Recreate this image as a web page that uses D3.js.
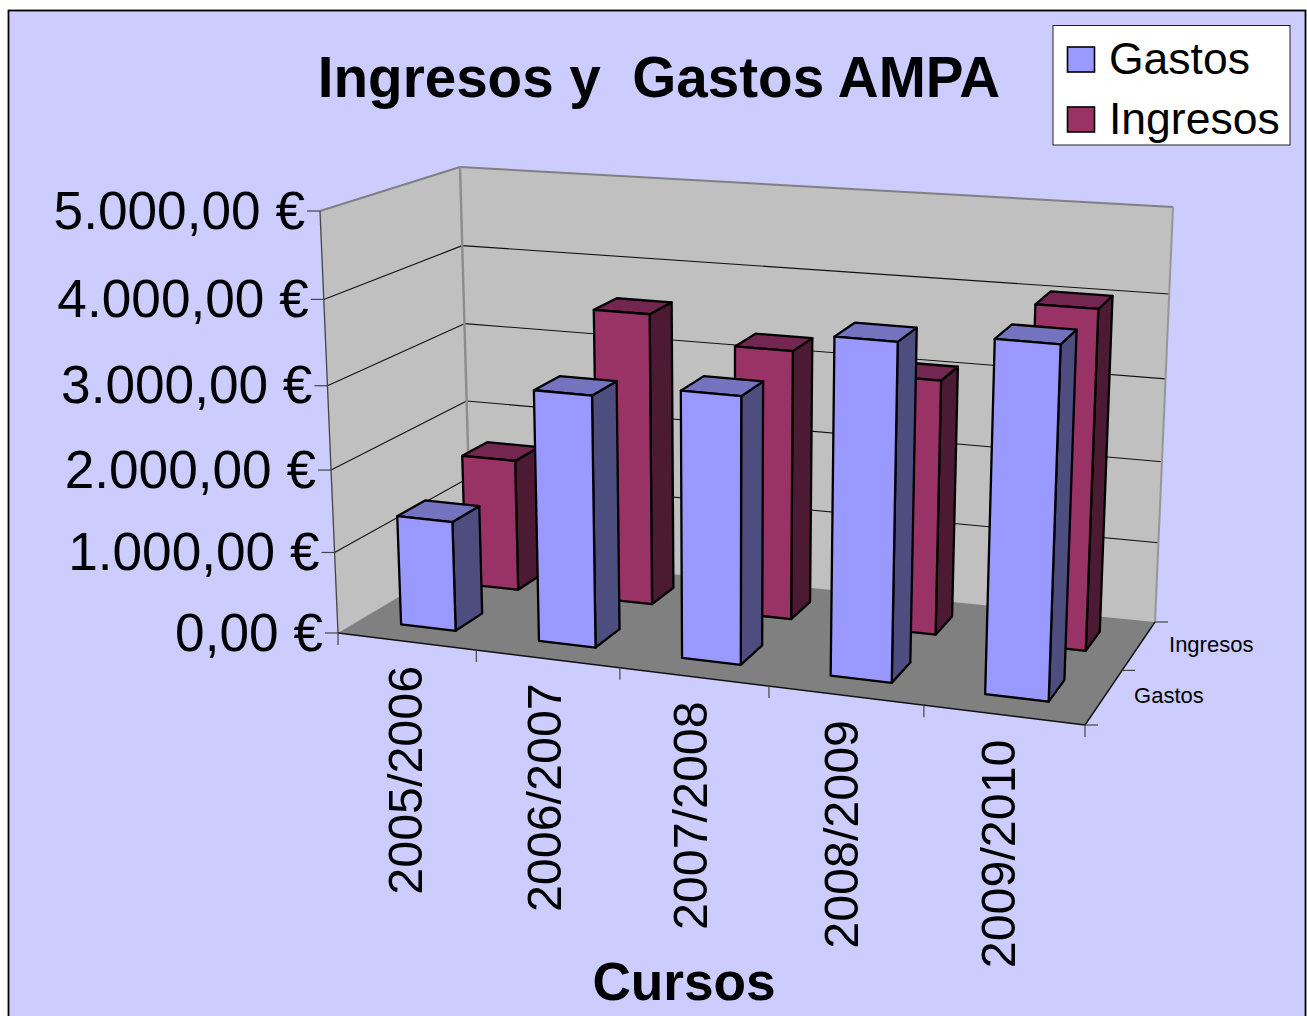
<!DOCTYPE html>
<html>
<head>
<meta charset="utf-8">
<style>
  html, body { margin: 0; padding: 0; background: #fff; }
  svg { display: block; }
  text { font-family: "Liberation Sans", Arial, sans-serif; fill: #000; white-space: pre; }
</style>
</head>
<body>
<svg id="chart" width="1307" height="1016"></svg>
<script src="https://cdn.jsdelivr.net/npm/d3@7"></script>
<script>
const categories = ['2005/2006', '2006/2007', '2007/2008', '2008/2009', '2009/2010'];
const seriesNames = ['Gastos', 'Ingresos'];
const gastos = [1345, 3020, 3170, 3930, 4050];
const ingresos = [1640, 3595, 3290, 3085, 4055];
const yTicks = [0, 1000, 2000, 3000, 4000, 5000];
const yTickLabels = ['0,00 €', '1.000,00 €', '2.000,00 €', '3.000,00 €', '4.000,00 €', '5.000,00 €'];

const colors = {
  Gastos: { front: '#9999ff', side: '#4d4d80', top: '#7373bf' },
  Ingresos: { front: '#993366', side: '#4d1a33', top: '#732650' }
};

// Screen corners of the 3D box: f = front, b = back, l/r = left/right, 0/1 = floor/top
const box = {
  fl0: [338, 633], fr0: [1085, 725], bl0: [471, 554], br0: [1155, 622],
  fl1: [320, 211], fr1: [1102, 270], bl1: [460, 167], br1: [1173, 207]
};

// Perspective foreshortening along the width, depth and height of the box
const foreshorten = (t, k) => t / (t + (1 - t) * k);
const lerp = (a, b, t) => [a[0] + (b[0] - a[0]) * t, a[1] + (b[1] - a[1]) * t];

const valueScale = d3.scaleLinear().domain([0, 5000]).range([0, 1]);
const xBand = d3.scaleBand().domain(categories).range([0, 1]).paddingInner(0.6).paddingOuter(0.3);
const zBand = d3.scaleBand().domain(seriesNames).range([0.01, 0.99]).paddingInner(0.59).paddingOuter(0.295);
const xTick = d3.scaleLinear().domain([0, categories.length]).range([0, 1]);

// x and z run 0..1 across the box, v is a data value
function project(x, z, v) {
  const u = foreshorten(x, 1.1);
  const w = foreshorten(z, 0.887);
  // heights get squeezed towards the top, except in the far left corner
  const h = foreshorten(valueScale(v), 1.06 - 0.04 * w * (1 - u));
  const floor = lerp(lerp(box.fl0, box.fr0, u), lerp(box.bl0, box.br0, u), w);
  const top = lerp(lerp(box.fl1, box.fr1, u), lerp(box.bl1, box.br1, u), w);
  return lerp(floor, top, h);
}

const svg = d3.select('#chart');
const polyLine = d3.line();

function face(points, fill, stroke, width) {
  svg.append('path')
    .attr('d', polyLine(points) + 'Z')
    .attr('fill', fill)
    .attr('stroke', stroke)
    .attr('stroke-width', width)
    .attr('stroke-linejoin', 'round');
}

function segment(a, b, stroke, width) {
  svg.append('line')
    .attr('x1', a[0]).attr('y1', a[1])
    .attr('x2', b[0]).attr('y2', b[1])
    .attr('stroke', stroke)
    .attr('stroke-width', width);
}

// Chart area
svg.append('rect')
  .attr('x', 8.5).attr('y', 10.5)
  .attr('width', 1297).attr('height', 1020)
  .attr('fill', '#ccccff')
  .attr('stroke', '#000')
  .attr('stroke-width', 1.8);

// Walls and floor
face([box.bl0, box.br0, box.br1, box.bl1], '#c0c0c0', 'none', 0);
face([box.fl0, box.bl0, box.bl1, box.fl1], '#c0c0c0', 'none', 0);
face([box.fl0, box.fr0, box.br0, box.bl0], '#808080', 'none', 0);

// Gridlines on both walls
yTicks.slice(1, -1).forEach(t => {
  segment(project(0, 0, t), project(0, 1, t), '#111', 1.1);
  segment(project(0, 1, t), project(1, 1, t), '#111', 1.1);
});

// Box edges
segment(box.fl1, box.bl1, '#808080', 2);
segment(box.bl1, box.br1, '#808080', 2);
segment(box.br1, box.br0, '#969696', 2);
segment(box.bl1, box.bl0, '#8c8c8c', 2.4);
segment(box.fl1, box.fl0, '#444', 1.3);
segment(box.fl0, box.fr0, '#111', 1.4);
segment(box.fr0, box.br0, '#111', 1.4);

// Value axis ticks and labels
yTicks.forEach((t, i) => {
  const p = project(0, 0, t);
  segment([p[0] - 13, p[1]], p, '#444', 1.2);
  svg.append('text')
    .attr('x', p[0] - 15)
    .attr('y', p[1] + 17.5)
    .attr('text-anchor', 'end')
    .attr('font-size', 53.2)
    .text(yTickLabels[i]);
});

// Category ticks and rotated labels
d3.range(categories.length + 1).forEach(i => {
  const p = project(xTick(i), 0, 0);
  segment(p, [p[0], p[1] + 12], '#444', 1.2);
});
categories.forEach((c, i) => {
  const p = project(xTick(i + 0.5), 0, 0);
  svg.append('text')
    .attr('transform', `translate(${p[0] + 15 - i},${p[1] + 24.5}) rotate(-90)`)
    .attr('text-anchor', 'end')
    .attr('font-size', 48.4)
    .text(c);
});

// Depth axis ticks and series labels
[0, 0.5, 1].forEach(z => {
  const p = project(1, z, 0);
  segment(p, [p[0] + 13, p[1]], '#444', 1.2);
});
seriesNames.forEach((s, i) => {
  const p = project(1, (i + 0.5) / seriesNames.length, 0);
  svg.append('text')
    .attr('x', p[0] + 30)
    .attr('y', p[1] + 6)
    .attr('font-size', 22)
    .text(s);
});

// Bars: back row first, left to right, so nearer bars cover farther ones
function drawBar(name, category, value) {
  const x0 = xBand(category), x1 = x0 + xBand.bandwidth();
  const z0 = zBand(name), z1 = z0 + zBand.bandwidth();
  const c = colors[name];
  const g0 = project(x0, z0, 0), g1 = project(x1, z0, 0), g2 = project(x1, z1, 0);
  const t0 = project(x0, z0, value), t1 = project(x1, z0, value);
  const t2 = project(x1, z1, value), t3 = project(x0, z1, value);
  face([g1, g2, t2, t1], c.side, '#000', 2.3);
  face([t0, t1, t2, t3], c.top, '#000', 2.3);
  face([g0, g1, t1, t0], c.front, '#000', 2.3);
}
categories.forEach((c, i) => drawBar('Ingresos', c, ingresos[i]));
categories.forEach((c, i) => drawBar('Gastos', c, gastos[i]));

// Titles
svg.append('text')
  .attr('x', 659).attr('y', 97)
  .attr('text-anchor', 'middle')
  .attr('font-size', 56.6)
  .attr('font-weight', 'bold')
  .text('Ingresos y  Gastos AMPA');
svg.append('text')
  .attr('x', 684).attr('y', 1000)
  .attr('text-anchor', 'middle')
  .attr('font-size', 53.2)
  .attr('font-weight', 'bold')
  .text('Cursos');

// Legend
svg.append('rect')
  .attr('x', 1053).attr('y', 25.5)
  .attr('width', 237).attr('height', 119.5)
  .attr('fill', '#fff')
  .attr('stroke', '#222')
  .attr('stroke-width', 1);
seriesNames.forEach((s, i) => {
  svg.append('rect')
    .attr('x', 1067.5).attr('y', 47 + i * 60)
    .attr('width', 27).attr('height', 25)
    .attr('fill', colors[s].front)
    .attr('stroke', '#000')
    .attr('stroke-width', 1.6);
  svg.append('text')
    .attr('x', 1109).attr('y', 74 + i * 60)
    .attr('font-size', 44.5)
    .text(s);
});
</script>
</body>
</html>
